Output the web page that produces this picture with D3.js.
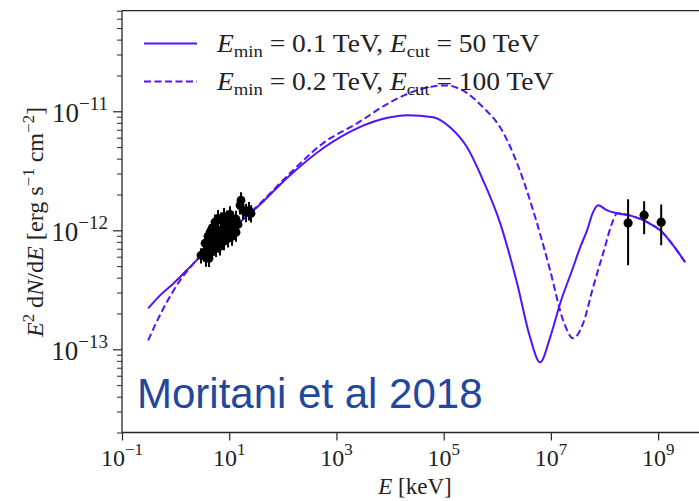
<!DOCTYPE html>
<html><head><meta charset="utf-8">
<script src="https://cdn.jsdelivr.net/npm/d3@7/dist/d3.min.js"></script>
<style>body{margin:0;background:#fff}svg{display:block}</style>
</head><body>
<script>
// ---- data ----
const xTickVals = [1e-1, 1e1, 1e3, 1e5, 1e7, 1e9];
const xTickExp = ["\u22121", "1", "3", "5", "7", "9"];
const yTickVals = [1e-13, 1e-12, 1e-11];
const yTickExp = ["\u221213", "\u221212", "\u221211"];

// Emin = 0.1 TeV, Ecut = 50 TeV
const solidE = [0.308, 0.512, 0.90, 1.61, 2.65, 9.51, 33.0, 136, 562, 2420, 1.0e4, 2.07e4, 6.34e4, 1.31e5, 2.73e5, 5.43e5, 1.13e6, 2.34e6, 4.09e6, 6.29e6, 9.67e6, 1.49e7, 2.60e7, 3.51e7, 4.73e7, 6.12e7, 7.60e7, 1.12e8, 1.72e8, 3.42e8, 6.24e8, 1.09e9, 1.91e9, 3.19e9];
const solidF = [2.21e-13, 2.84e-13, 3.56e-13, 4.61e-13, 5.78e-13, 9.61e-13, 1.56e-12, 2.90e-12, 4.89e-12, 7.19e-12, 8.90e-12, 9.26e-12, 8.90e-12, 7.34e-12, 4.98e-12, 2.63e-12, 1.15e-12, 3.59e-13, 1.26e-13, 7.78e-14, 1.26e-13, 2.44e-13, 4.89e-13, 7.19e-13, 1.00e-12, 1.42e-12, 1.62e-12, 1.47e-12, 1.39e-12, 1.31e-12, 1.17e-12, 1.00e-12, 7.48e-13, 5.38e-13];

// Emin = 0.2 TeV, Ecut = 100 TeV
const dashE = [0.308, 0.413, 0.590, 0.846, 1.21, 1.86, 2.62, 9.51, 33.0, 136, 562, 2420, 1.0e4, 3.19e4, 1.06e5, 2.73e5, 5.43e5, 1.13e6, 2.34e6, 4.66e6, 9.67e6, 1.69e7, 2.60e7, 3.99e7, 6.12e7, 9.42e7, 1.45e8, 1.72e8, 3.42e8, 6.24e8, 1.09e9, 1.91e9, 3.19e9];
const dashF = [1.19e-13, 1.59e-13, 2.20e-13, 2.94e-13, 3.80e-13, 4.86e-13, 5.82e-13, 9.61e-13, 1.59e-12, 3.01e-12, 5.39e-12, 7.92e-12, 1.19e-11, 1.50e-11, 1.65e-11, 1.42e-11, 1.08e-11, 7.34e-12, 3.66e-12, 1.47e-12, 4.61e-13, 1.75e-13, 1.24e-13, 1.65e-13, 3.32e-13, 6.41e-13, 1.21e-12, 1.39e-12, 1.31e-12, 1.17e-12, 1.00e-12, 7.48e-13, 5.38e-13];

// X-ray points
const xrayE = [2.98, 3.39, 3.69, 4.02, 4.38, 4.57, 4.99, 5.20, 5.67, 5.92, 6.45, 6.73, 7.34, 7.66, 8.35, 8.71, 9.51, 9.91, 10.8, 11.3, 12.3, 13.4, 14.6, 15.9, 16.6, 18.1, 20.6, 23.4, 25.5,
  4.78, 5.43, 6.18, 7.03, 8.00, 9.10, 10.35, 4.20, 4.78, 5.67, 6.73, 8.00, 9.51, 11.3, 13.4, 4.02, 4.38, 3.54];
const xrayF = [6.17e-13, 6.53e-13, 5.93e-13, 6.92e-13, 7.62e-13, 6.53e-13, 8.57e-13, 7.34e-13, 8.24e-13, 9.44e-13, 7.78e-13, 8.90e-13, 1.02e-12, 8.57e-13, 9.62e-13, 1.12e-12, 9.44e-13, 1.10e-12, 1.02e-12, 1.19e-12, 1.08e-12, 1.24e-12, 1.12e-12, 1.62e-12, 1.79e-12, 1.47e-12, 1.42e-12, 1.47e-12, 1.39e-12,
  1.04e-12, 1.17e-12, 1.26e-12, 1.21e-12, 1.31e-12, 1.26e-12, 1.36e-12, 5.82e-13, 6.79e-13, 7.06e-13, 7.34e-13, 8.09e-13, 8.57e-13, 8.90e-13, 9.62e-13, 8.90e-13, 9.62e-13, 7.78e-13];
const xrayErr = [0.9e-13, 1.1e-13, 1.0e-13, 1.2e-13, 1.3e-13, 1.0e-13, 1.4e-13, 1.2e-13, 1.5e-13, 1.6e-13, 1.3e-13, 1.5e-13, 1.8e-13, 1.4e-13, 1.6e-13, 2.0e-13, 1.7e-13, 1.9e-13, 1.8e-13, 2.1e-13, 1.9e-13, 2.2e-13, 2.0e-13, 2.6e-13, 3.0e-13, 2.4e-13, 2.5e-13, 2.6e-13, 2.3e-13,
  1.7e-13, 1.9e-13, 2.2e-13, 2.0e-13, 2.3e-13, 2.1e-13, 2.3e-13, 0.9e-13, 1.1e-13, 1.1e-13, 1.2e-13, 1.3e-13, 1.4e-13, 1.5e-13, 1.6e-13, 1.5e-13, 1.6e-13, 1.2e-13];

// TeV points
const tevE = [2.75e8, 5.48e8, 1.14e9];
const tevF = [1.15e-12, 1.34e-12, 1.17e-12];
const tevLo = [5.08e-13, 9.25e-13, 7.48e-13];
const tevHi = [1.82e-12, 1.75e-12, 1.65e-12];

// legend values
const legendMin = ["0.1", "0.2"];
const legendCut = ["50", "100"];

// ---- layout ----
const W = 699, H = 501;
const L = 122, R = 708, T = 10.7, B = 432.5;
const lineColor = "#5212ff";
const serif = "'Liberation Serif', 'Times New Roman', serif";

const svg = d3.select("body").append("svg").attr("width", W).attr("height", H)
  .style("background", "#fff");

const x = d3.scaleLog().domain([1e-1, Math.pow(10, 9.93)]).range([L, R]);
const y = d3.scaleLog().domain([2e-14, 7e-11]).range([B, T]);

svg.append("clipPath").attr("id", "clip").append("rect")
  .attr("x", L).attr("y", T).attr("width", R - L).attr("height", B - T);

const plot = svg.append("g").attr("clip-path", "url(#clip)");

const line = d3.line().x(d => x(d[0])).y(d => y(d[1])).curve(d3.curveMonotoneX);
plot.append("path").datum(solidE.map((e, i) => [e, solidF[i]]))
  .attr("d", line).attr("fill", "none").attr("stroke", lineColor).attr("stroke-width", 2);
plot.append("path").datum(dashE.map((e, i) => [e, dashF[i]]))
  .attr("d", line).attr("fill", "none").attr("stroke", lineColor).attr("stroke-width", 2)
  .attr("stroke-dasharray", "7,3.5");

// error bars + points
function drawPoints(E, F, lo, hi, r) {
  const g = plot.append("g");
  E.forEach((e, i) => {
    g.append("line").attr("x1", x(e)).attr("x2", x(e))
      .attr("y1", y(lo[i])).attr("y2", y(hi[i]))
      .attr("stroke", "#000").attr("stroke-width", 2);
  });
  E.forEach((e, i) => {
    g.append("circle").attr("cx", x(e)).attr("cy", y(F[i])).attr("r", r).attr("fill", "#000");
  });
}
drawPoints(xrayE, xrayF, xrayF.map((f, i) => f - xrayErr[i]), xrayF.map((f, i) => f + xrayErr[i]), 4.4);
drawPoints(tevE, tevF, tevLo, tevHi, 4.6);

// spines
const spineCol = "#262626";
svg.append("line").attr("x1", L).attr("x2", L).attr("y1", T).attr("y2", B).attr("stroke", spineCol).attr("stroke-width", 1.3);
svg.append("line").attr("x1", L).attr("x2", R).attr("y1", B).attr("y2", B).attr("stroke", spineCol).attr("stroke-width", 1.3);
svg.append("line").attr("x1", L).attr("x2", R).attr("y1", T).attr("y2", T).attr("stroke", spineCol).attr("stroke-width", 1.3);

// x axis ticks
const xAxis = d3.axisBottom(x).tickValues(xTickVals).tickSize(8).tickFormat("");
const gx = svg.append("g").attr("transform", `translate(0,${B})`).call(xAxis);
gx.select(".domain").remove();
gx.selectAll(".tick line").attr("stroke", spineCol).attr("stroke-width", 1.2);
xTickVals.forEach((v, i) => {
  const t = svg.append("text").attr("x", x(v)).attr("y", 466).attr("text-anchor", "middle")
    .attr("font-family", serif).attr("font-size", 24).attr("fill", "#222");
  t.append("tspan").text("10");
  t.append("tspan").attr("font-size", 17).attr("dy", -11).text(xTickExp[i]);
});

// y axis ticks (major + minor)
const yMinor = [];
for (let p = -14; p <= -11; p++) for (let m = 2; m <= 9; m++) {
  const v = m * Math.pow(10, p);
  if (v >= 2e-14 && v <= 7e-11) yMinor.push(v);
}
const gyMinor = svg.append("g").attr("transform", `translate(${L},0)`)
  .call(d3.axisLeft(y).tickValues(yMinor).tickSize(5).tickFormat(""));
gyMinor.select(".domain").remove();
gyMinor.selectAll(".tick line").attr("stroke", spineCol).attr("stroke-width", 1);
const gy = svg.append("g").attr("transform", `translate(${L},0)`)
  .call(d3.axisLeft(y).tickValues(yTickVals).tickSize(9).tickFormat(""));
gy.select(".domain").remove();
gy.selectAll(".tick line").attr("stroke", spineCol).attr("stroke-width", 1.2);
yTickVals.forEach((v, i) => {
  const t = svg.append("text").attr("x", 108).attr("y", y(v) + 11).attr("text-anchor", "end")
    .attr("font-family", serif).attr("font-size", 27).attr("fill", "#222");
  t.append("tspan").text("10");
  t.append("tspan").attr("font-size", 19).attr("dy", -12).text(yTickExp[i]);
});

// axis labels
const xl = svg.append("text").attr("x", 415).attr("y", 494).attr("text-anchor", "middle")
  .attr("font-family", serif).attr("font-size", 23).attr("fill", "#222");
xl.append("tspan").attr("font-style", "italic").text("E");
xl.append("tspan").text(" [keV]");

const yl = svg.append("text").attr("transform", "translate(43,222) rotate(-90) scale(1.05,1)").attr("text-anchor", "middle")
  .attr("font-family", serif).attr("font-size", 23).attr("fill", "#222");
yl.append("tspan").attr("font-style", "italic").text("E");
yl.append("tspan").attr("font-size", 16).attr("dy", -9).text("2");
yl.append("tspan").attr("dy", 9).text(" d");
yl.append("tspan").attr("font-style", "italic").text("N");
yl.append("tspan").text("/d");
yl.append("tspan").attr("font-style", "italic").text("E");
yl.append("tspan").text(" [erg s");
yl.append("tspan").attr("font-size", 16).attr("dy", -9).text("\u22121");
yl.append("tspan").attr("dy", 9).text(" cm");
yl.append("tspan").attr("font-size", 16).attr("dy", -9).text("\u22122");
yl.append("tspan").attr("dy", 9).text("]");

// legend
const legendY = [43.5, 81.5];
const legendDash = [null, "7,3.5"];
legendMin.forEach((mn, i) => {
  const ly = legendY[i];
  const ln = svg.append("line").attr("x1", 144).attr("x2", 197).attr("y1", ly).attr("y2", ly)
    .attr("stroke", lineColor).attr("stroke-width", 2);
  if (legendDash[i]) ln.attr("stroke-dasharray", legendDash[i]);
  const t = svg.append("text").attr("transform", `translate(217,${ly + 8.5}) scale(1.1,1)`)
    .attr("font-family", serif).attr("font-size", 25).attr("fill", "#222");
  t.append("tspan").attr("font-style", "italic").text("E");
  t.append("tspan").attr("font-size", 17).attr("dy", 5).text("min");
  t.append("tspan").attr("dy", -5).text(` = ${mn} TeV, `);
  t.append("tspan").attr("font-style", "italic").text("E");
  t.append("tspan").attr("font-size", 17).attr("dy", 5).text("cut");
  t.append("tspan").attr("dy", -5).text(` = ${legendCut[i]} TeV`);
});

// annotation
svg.append("text").attr("x", 137).attr("y", 408)
  .attr("font-family", "'Liberation Sans', Arial, sans-serif").attr("font-size", 42)
  .attr("fill", "#24479e").text("Moritani et al 2018");
</script>
</body></html>
